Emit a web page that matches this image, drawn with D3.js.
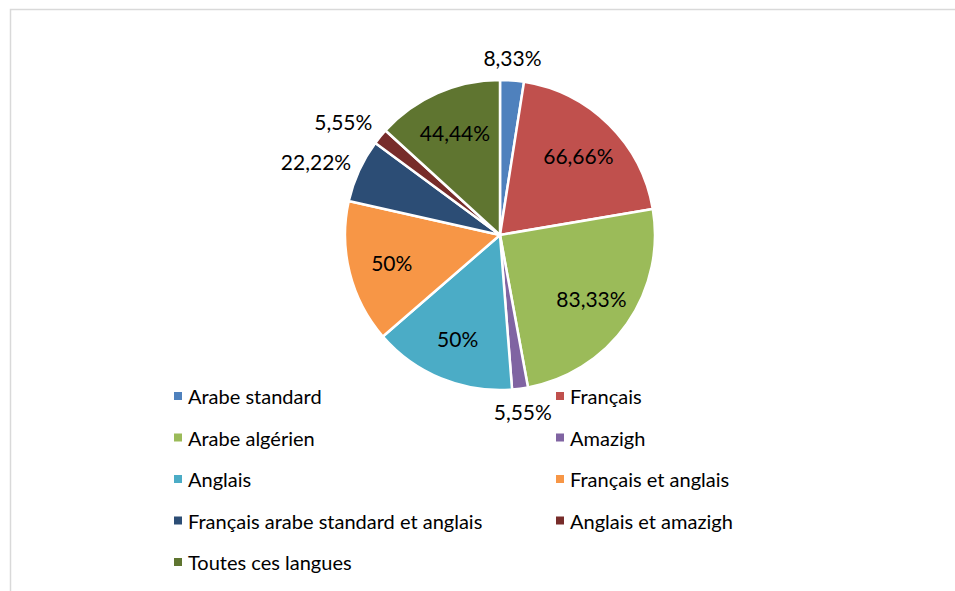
<!DOCTYPE html>
<meta charset="utf-8" />
<style>
  html,
  body {
    margin: 0;
    padding: 0;
    background: #fff;
  }
  #chart {
    width: 955px;
    height: 591px;
    font-family: Lato, 'Open Sans', sans-serif;
  }
</style>
<script src="https://d3js.org/d3.v7.min.js"></script>

<div id="chart"></div>

<script>
  // data
  const categories = [
    'Arabe standard',
    'Français',
    'Arabe algérien',
    'Amazigh',
    'Anglais',
    'Français et anglais',
    'Français arabe standard et anglais',
    'Anglais et amazigh',
    'Toutes ces langues',
  ];
  const values = [8.33, 66.66, 83.33, 5.55, 50, 50, 22.22, 5.55, 44.44];
  const valueLabels = [
    '8,33%',
    '66,66%',
    '83,33%',
    '5,55%',
    '50%',
    '50%',
    '22,22%',
    '5,55%',
    '44,44%',
  ];
  const colors = [
    '#4f81bd',
    '#c0504d',
    '#9bbb59',
    '#8064a2',
    '#4bacc6',
    '#f79646',
    '#2c4d75',
    '#772c2a',
    '#5f7530',
  ];

  const width = 955;
  const height = 591;
  const cx = 500;
  const cy = 235;
  const radius = 155;

  const svg = d3
    .select('#chart')
    .append('svg')
    .attr('width', width)
    .attr('height', height);

  // chart frame (runs off the right and bottom)
  svg
    .append('rect')
    .attr('x', 10.5)
    .attr('y', 9.5)
    .attr('width', 960)
    .attr('height', 600)
    .attr('fill', 'none')
    .attr('stroke', '#d9d9d9')
    .attr('stroke-width', 1.5);

  const data = categories.map((c, i) => ({
    name: c,
    value: values[i],
    label: valueLabels[i],
    color: colors[i],
  }));

  const pie = d3
    .pie()
    .sort(null)
    .value((d) => d.value);
  const arcs = pie(data);

  const arc = d3.arc().innerRadius(0).outerRadius(radius);

  const g = svg
    .append('g')
    .attr('transform', `translate(${cx},${cy})`);

  g.selectAll('path')
    .data(arcs)
    .enter()
    .append('path')
    .attr('d', arc)
    .attr('fill', (d) => d.data.color)
    .attr('stroke', '#fff')
    .attr('stroke-width', 2.5)
    .attr('stroke-linejoin', 'round');

  // data labels: big slices inside, small ones just outside
  const insideArc = d3
    .arc()
    .innerRadius(radius * 0.72)
    .outerRadius(radius * 0.72);

  g.selectAll('text.lbl')
    .data(arcs)
    .enter()
    .append('text')
    .attr('class', 'lbl')
    .attr('font-size', '21px')
    .attr('fill', '#000')
    .attr('text-anchor', 'middle')
    .attr('dominant-baseline', 'central')
    .attr('transform', (d) => {
      const mid = (d.startAngle + d.endAngle) / 2;
      if (d.data.value > 30) {
        const c = insideArc.centroid(d);
        return `translate(${c[0]},${c[1]})`;
      }
      const r = radius + 12;
      const px = Math.sin(mid) * r;
      const py = -Math.cos(mid) * r;
      const x = px + Math.sin(mid) * 32 - 3;
      const y = py - Math.cos(mid) * 11;
      return `translate(${x},${y})`;
    })
    .text((d) => d.data.label);

  // legend, two columns
  const legend = svg
    .append('g')
    .attr('transform', 'translate(174,396)');
  const colX = d3.scaleOrdinal().domain([0, 1]).range([0, 382]);
  const rowY = d3
    .scaleLinear()
    .domain([0, 4])
    .range([0, 166]);

  const items = legend
    .selectAll('g')
    .data(data)
    .enter()
    .append('g')
    .attr(
      'transform',
      (d, i) => `translate(${colX(i % 2)},${rowY(Math.floor(i / 2))})`,
    );

  items
    .append('rect')
    .attr('x', 0)
    .attr('y', -4)
    .attr('width', 8)
    .attr('height', 8)
    .attr('fill', (d) => d.color);

  items
    .append('text')
    .attr('x', 14)
    .attr('y', 0)
    .attr('dominant-baseline', 'central')
    .attr('font-size', '20px')
    .attr('fill', '#000')
    .text((d) => d.name);
</script>
